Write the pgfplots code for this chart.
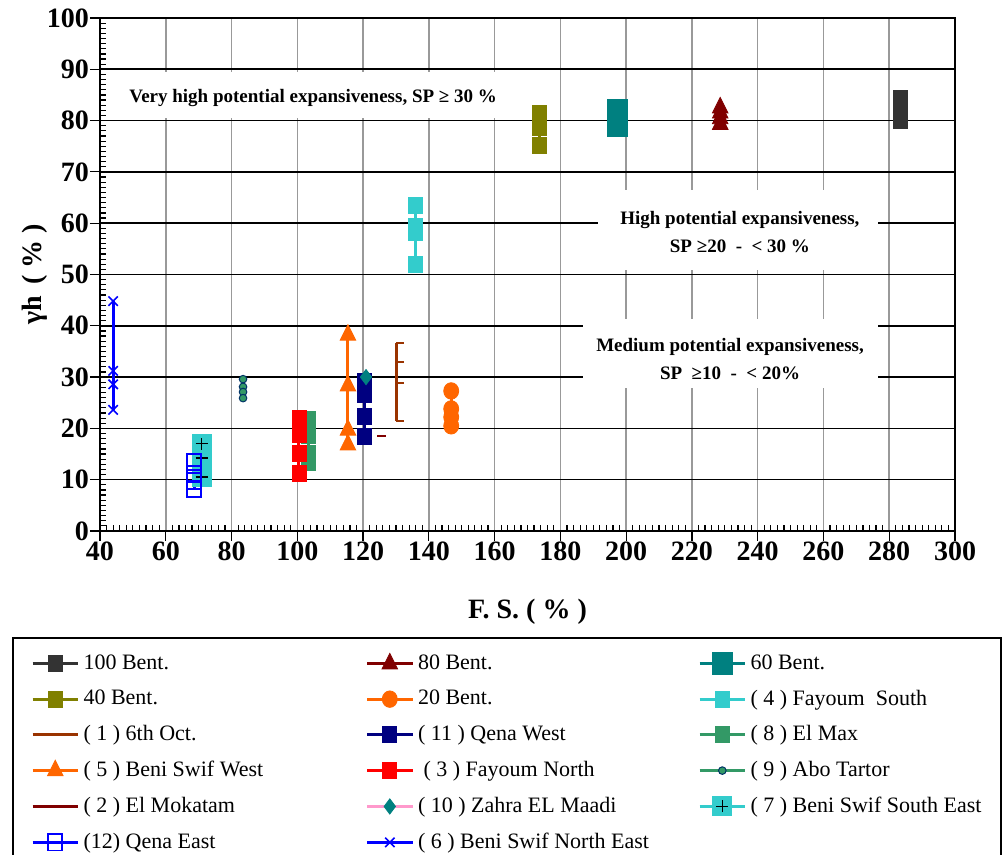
\documentclass[border=0pt]{standalone}
\usepackage{pgfplots}
\pgfplotsset{compat=1.18}
\usepackage{fontspec}
\setmainfont{Liberation Serif}
\definecolor{cDark}{HTML}{333333}
\definecolor{cMaroon}{HTML}{800000}
\definecolor{cTeal}{HTML}{008080}
\definecolor{cOlive}{HTML}{808000}
\definecolor{cOrange}{HTML}{FF6600}
\definecolor{cCyan}{HTML}{33CCCC}
\definecolor{cBrown}{HTML}{993300}
\definecolor{cNavy}{HTML}{000080}
\definecolor{cSea}{HTML}{339966}
\definecolor{cRed}{HTML}{FF0000}
\definecolor{cPink}{HTML}{FF99CC}
\definecolor{cBlue}{HTML}{0000FF}
\definecolor{cGrid}{HTML}{999999}
\definecolor{cDeep}{HTML}{003366}

\pgfdeclareplotmark{sqplus}{%
  \pgfpathrectangle{\pgfqpoint{-\pgfplotmarksize}{-\pgfplotmarksize}}{\pgfqpoint{2\pgfplotmarksize}{2\pgfplotmarksize}}%
  \pgfusepathqfill
  \pgfsetstrokecolor{black}%
  \pgfsetlinewidth{0.7pt}%
  \pgfpathmoveto{\pgfqpoint{-0.6\pgfplotmarksize}{0pt}}%
  \pgfpathlineto{\pgfqpoint{0.6\pgfplotmarksize}{0pt}}%
  \pgfpathmoveto{\pgfqpoint{0pt}{-0.6\pgfplotmarksize}}%
  \pgfpathlineto{\pgfqpoint{0pt}{0.6\pgfplotmarksize}}%
  \pgfusepathqstroke
}

\begin{document}
\begin{tikzpicture}
\begin{axis}[
  at={(0pt,0pt)}, anchor=south west,
  scale only axis, width=427.5pt, height=256.5pt,
  xmin=40, xmax=300, ymin=0, ymax=100,
  xtick={40,60,...,300}, ytick={0,10,...,100},
  minor x tick num=9, minor y tick num=9,
  xtick pos=bottom, ytick pos=left,
  tick align=inside, major tick length=0pt, minor tick length=3pt,
  extra x ticks={40,60,...,300}, extra x tick labels={},
  extra y ticks={0,10,...,100}, extra y tick labels={},
  extra tick style={tick align=outside, major tick length=5pt, grid=none},
  tick style={black, line width=0.6pt},
  xmajorgrids, ymajorgrids,
  x grid style={cGrid, line width=0.8pt},
  y grid style={black, line width=0.8pt},
  axis line style={black, line width=1.2pt},
  tick label style={font=\fontsize{14}{16}\selectfont\bfseries},
  xticklabel style={yshift=-2pt},
  yticklabel style={xshift=-2pt},
  /pgf/number format/assume math mode=true,
  xlabel={F. S. ( \% )},
  ylabel={γh \,( \% )},
  label style={font=\fontsize{14}{16}\selectfont\bfseries},
  xlabel style={at={(axis description cs:0.5,-0.158)}, anchor=center},
  ylabel style={at={(axis description cs:-0.076,0.5)}, anchor=center},
  every axis plot/.append style={line width=1.5pt},
  legend image code/.code={\draw[mark repeat=2,mark phase=2] plot coordinates {(0cm,0cm)(0.4cm,0cm)(0.8cm,0cm)};},
  legend columns=3,
  legend cell align=left,
  legend style={at={(rel axis cs:-0.1029,-0.2066)}, anchor=north west,
    draw=black, line width=1pt, font=\fontsize{11}{13}\selectfont,
    row sep=4.7pt, inner xsep=9pt, inner ysep=6.5pt},
]
% 100 Bent.
\addplot[cDark, mark=square*, mark size=3.5pt, mark options={solid, fill=cDark, line width=0.4pt, yscale=1.15}]
  coordinates {(283.3,84.3)(283.3,82.2)(283.3,80.1)};
\addlegendentry{\makebox[139pt][l]{100 Bent.}}
% 80 Bent.
\addplot[cMaroon, mark=triangle*, mark size=4.5pt, mark options={solid, fill=cMaroon, line width=0.4pt, yscale=1.15}]
  coordinates {(228.6,82.5)(228.6,81.5)(228.6,80.4)(228.6,79.3)};
\addlegendentry{\makebox[138pt][l]{80 Bent.}}
% 60 Bent.
\addplot[cTeal, mark=square*, mark size=5pt, mark options={solid, fill=cTeal, line width=0.4pt, yscale=1.1}]
  coordinates {(197.2,82.0)(197.2,80.5)(197.2,79.0)};
\addlegendentry{\makebox[114pt][l]{60 Bent.}}
% 40 Bent.
\addplot[cOlive, mark=square*, mark size=3.5pt, mark options={solid, fill=cOlive, line width=0.4pt, yscale=1.15}]
  coordinates {(173.5,81.3)(173.5,78.6)(173.5,75.2)};
\addlegendentry{\makebox[139pt][l]{40 Bent.}}
% 20 Bent.
\addplot[cOrange, mark=*, mark size=3.75pt, mark options={solid, fill=cOrange, line width=0.4pt, yscale=1.1}]
  coordinates {(146.8,27.3)(146.8,23.8)(146.8,22.2)(146.8,20.5)};
\addlegendentry{\makebox[138pt][l]{20 Bent.}}
% (4) Fayoum South
\addplot[cCyan, mark=square*, mark size=3.5pt, mark options={solid, fill=cCyan, line width=0.4pt, yscale=1.15}]
  coordinates {(135.8,63.5)(135.8,59.3)(135.8,58.2)(135.8,51.9)};
\addlegendentry{\makebox[114pt][l]{( 4 ) Fayoum~ South}}
% (1) 6th Oct.
\addplot[cBrown, mark=-, mark size=2pt, mark options={solid, line width=1.2pt, xshift=1.5pt}]
  coordinates {(130.3,36.6)(130.3,32.9)(130.3,28.8)(130.3,21.4)};
\addlegendentry{\makebox[139pt][l]{( 1 ) 6th Oct.}}
% (11) Qena West
\addplot[cNavy, mark=square*, mark size=3.5pt, mark options={solid, fill=cNavy, line width=0.4pt, yscale=1.15}]
  coordinates {(120.4,29.2)(120.4,26.7)(120.4,22.4)(120.4,18.5)};
\addlegendentry{\makebox[138pt][l]{( 11 ) Qena West}}
% (8) El Max
\addplot[cSea, mark=square*, mark size=3.5pt, mark options={solid, fill=cSea, line width=0.4pt, yscale=1.15}]
  coordinates {(103.3,21.8)(103.3,18.7)(103.3,15.2)(103.3,13.4)};
\addlegendentry{\makebox[114pt][l]{( 8 ) El Max}}
% (5) Beni Swif West
\addplot[cOrange, mark=triangle*, mark size=4.5pt, mark options={solid, fill=cOrange, line width=0.4pt, yscale=1.15}]
  coordinates {(115.4,38.2)(115.4,28.3)(115.4,19.7)(115.4,16.8)};
\addlegendentry{\makebox[139pt][l]{( 5 ) Beni Swif West}}
% (3) Fayoum North
\addplot[cRed, mark=square*, mark size=3.5pt, mark options={solid, fill=cRed, line width=0.4pt, yscale=1.15}]
  coordinates {(100.5,22.0)(100.5,18.9)(100.5,15.2)(100.5,11.3)};
\addlegendentry{\makebox[138pt][l]{\ ( 3 ) Fayoum North}}
% (9) Abo Tartor
\addplot[cSea, mark=*, mark size=1.9pt, mark options={solid, fill=cSea, draw=cDeep, line width=0.5pt}]
  coordinates {(83.5,29.6)(83.5,28.1)(83.5,27.1)(83.5,25.9)};
\addlegendentry{\makebox[114pt][l]{( 9 ) Abo Tartor}}
% (2) El Mokatam
\addplot[cMaroon, mark=-, mark size=2.25pt, mark options={solid, line width=1.3pt}]
  coordinates {(125.6,18.5)};
\addlegendentry{\makebox[139pt][l]{( 2 ) El Mokatam}}
% (10) Zahra EL Maadi
\addplot[cPink, mark=diamond*, mark size=3.8pt, mark options={solid, fill=cTeal, draw=cTeal, line width=0.4pt}]
  coordinates {(120.9,30.0)};
\addlegendentry{\makebox[138pt][l]{( 10 ) Zahra EL Maadi}}
% (7) Beni Swif South East
\addplot[cCyan, mark=sqplus, mark size=5pt, mark options={solid, fill=cCyan, line width=0.4pt}]
  coordinates {(70.9,10.5)(70.9,12.7)(70.9,14.2)(70.9,17.0)};
\addlegendentry{\makebox[114pt][l]{( 7 ) Beni Swif South East}}
% (12) Qena East
\addplot[cBlue, mark=square, mark size=3.5pt, mark options={solid, fill=white, draw=cBlue, line width=0.9pt, yscale=1.15}]
  coordinates {(68.6,13.5)(68.6,11.1)(68.6,9.8)(68.6,8.2)};
\addlegendentry{\makebox[139pt][l]{(12) Qena East}}
% (6) Beni Swif North East
\addplot[cBlue, mark=x, mark size=3.3pt, mark options={solid, line width=0.8pt}]
  coordinates {(44.0,44.8)(44.0,31.2)(44.0,28.6)(44.0,23.6)};
\addlegendentry{\makebox[138pt][l]{( 6 ) Beni Swif North East}}

% annotation boxes
\fill[white] (axis cs:45.5,80.6) rectangle (axis cs:164,89.4);
\node[font=\fontsize{9.5}{12}\selectfont\bfseries] at (axis cs:104.8,84.4) {Very high potential expansiveness, SP ≥ 30 \%};
\fill[white] (axis cs:191.5,50.8) rectangle (axis cs:276.6,66.5);
\node[font=\fontsize{9.5}{14}\selectfont\bfseries, align=center] at (axis cs:234.6,58.3) {High potential expansiveness,\\ SP ≥20 ~- ~< 30 \%};
\fill[white] (axis cs:186.9,27.9) rectangle (axis cs:276.6,41.3);
\node[font=\fontsize{9.5}{14}\selectfont\bfseries, align=center] at (axis cs:231.6,33.6) {Medium potential expansiveness,\\ SP ~≥10 ~- ~< 20\%};
\end{axis}
\pgfresetboundingbox
\path[use as bounding box] (-50pt,-162pt) rectangle (451pt,265.5pt);
\end{tikzpicture}
\end{document}
